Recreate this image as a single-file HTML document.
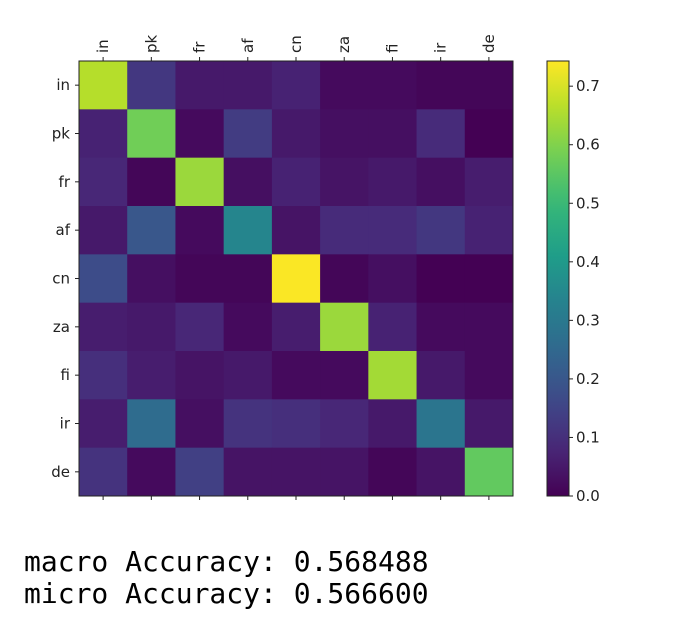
<!DOCTYPE html>
<html><head><meta charset="utf-8"><style>
body{margin:0;background:#fff;width:696px;height:622px;overflow:hidden;position:relative}
svg{position:absolute;left:0;top:0}
.acc{position:absolute;left:24px;font-family:"DejaVu Sans Mono","Liberation Mono",monospace;font-size:28px;color:#000;white-space:pre;line-height:32px}
</style></head><body>
<svg id="chart" width="696" height="530"></svg>
<div class="acc" style="top:546px">macro Accuracy: 0.568488</div>
<div class="acc" style="top:578px">micro Accuracy: 0.566600</div>
<script>
const labels = ["in","pk","fr","af","cn","za","fi","ir","de"];
const row_in = [0.66,0.12,0.05,0.05,0.07,0.02,0.02,0.01,0.01];
const row_pk = [0.07,0.58,0.02,0.13,0.05,0.03,0.03,0.09,0.00];
const row_fr = [0.08,0.01,0.63,0.03,0.07,0.04,0.05,0.03,0.06];
const row_af = [0.05,0.20,0.02,0.34,0.04,0.09,0.09,0.12,0.07];
const row_cn = [0.17,0.03,0.01,0.01,0.74,0.01,0.03,0.00,0.00];
const row_za = [0.06,0.05,0.08,0.02,0.06,0.63,0.07,0.02,0.02];
const row_fi = [0.10,0.06,0.04,0.05,0.02,0.02,0.64,0.05,0.02];
const row_ir = [0.06,0.26,0.03,0.11,0.10,0.08,0.05,0.29,0.05];
const row_de = [0.11,0.02,0.14,0.04,0.04,0.04,0.01,0.04,0.56];
const matrix = [row_in,row_pk,row_fr,row_af,row_cn,row_za,row_fi,row_ir,row_de];
const cbTicks = [0.0,0.1,0.2,0.3,0.4,0.5,0.6,0.7];
const vmin = 0, vmax = 0.743;

const NS="http://www.w3.org/2000/svg";
const svg=document.getElementById('chart');
const L=79,T=61,R=513,B=496;
const cw=(R-L)/labels.length, ch=(B-T)/labels.length;
const xPos=i=>L+i*cw, yPos=i=>T+i*ch;
const stops=[[68,1,84],[72,40,120],[62,74,137],[49,104,142],[38,130,142],[31,158,137],[53,183,121],[110,206,88],[181,222,43],[253,231,37]];
function viridis(t){t=Math.max(0,Math.min(1,t));const p=t*(stops.length-1),i=Math.min(Math.floor(p),stops.length-2),f=p-i;
 const c=stops[i].map((v,k)=>Math.round(v+(stops[i+1][k]-v)*f));return `rgb(${c})`;}
function el(tag,attrs){const e=document.createElementNS(NS,tag);for(const k in attrs)e.setAttribute(k,attrs[k]);svg.appendChild(e);return e;}
const font='font-family:"DejaVu Sans","Liberation Sans",sans-serif;font-size:15px;fill:#222';
matrix.forEach((row,r)=>row.forEach((v,c)=>{
 const e=el('rect',{x:xPos(c),y:yPos(r),width:cw+0.5,height:ch+0.5,fill:viridis((v-vmin)/(vmax-vmin))});
 
 
}));
const frame=el('rect',{x:L,y:T,width:R-L,height:B-T,fill:'none',stroke:'#222','stroke-width':1});


labels.forEach((lab,i)=>{
 const cx=xPos(i)+cw/2, cy=yPos(i)+ch/2;
 el('line',{x1:cx,y1:T,x2:cx,y2:T-4,stroke:'#222'});
 el('line',{x1:cx,y1:B,x2:cx,y2:B+4,stroke:'#222'});
 el('line',{x1:L,y1:cy,x2:L-4,y2:cy,stroke:'#222'});
 const tx=el('text',{x:0,y:0,transform:`translate(${cx+5},${T-8}) rotate(-90)`,style:font});
 tx.textContent=lab;
 
 
 const ty=el('text',{x:L-9,y:cy+5,'text-anchor':'end',style:font});
 ty.textContent=lab;
 
 
});
const CL=547,CR=569;
const cbY=v=>B-(v-vmin)/(vmax-vmin)*(B-T);
const defs=el('defs',{});
const g=document.createElementNS(NS,'linearGradient');g.setAttribute('id','vg');g.setAttribute('x1','0');g.setAttribute('y1','1');g.setAttribute('x2','0');g.setAttribute('y2','0');
for(let i=0;i<=20;i++){const s=document.createElementNS(NS,'stop');s.setAttribute('offset',i/20);s.setAttribute('stop-color',viridis(i/20));g.appendChild(s);}
defs.appendChild(g);
const cb=el('rect',{x:CL,y:T,width:CR-CL,height:B-T,fill:'url(#vg)',stroke:'#222','stroke-width':1});


cbTicks.forEach(v=>{
 const y=cbY(v);
 el('line',{x1:CR,y1:y,x2:CR+4,y2:y,stroke:'#222'});
 const t=el('text',{x:CR+7,y:y+5,style:font});
 t.textContent=v.toFixed(1);
 
 
});
</script>
</body></html>
